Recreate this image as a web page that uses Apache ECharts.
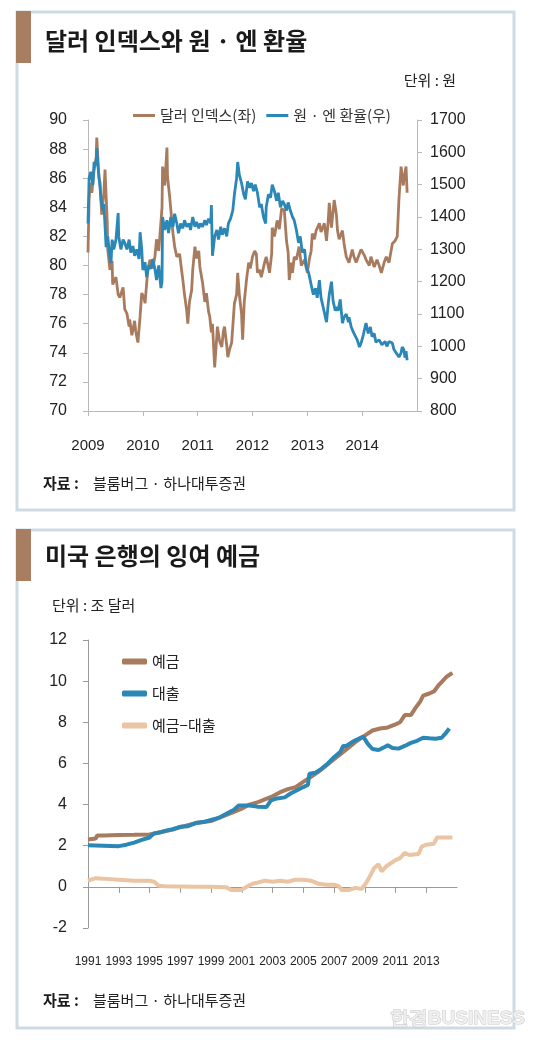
<!DOCTYPE html>
<html><head><meta charset="utf-8">
<script src="https://cdn.jsdelivr.net/npm/echarts@6/dist/echarts.min.js"></script>
<style>html,body{margin:0;padding:0;background:#fff;}#c{width:540px;height:1044px;}</style>
</head><body><div id="c"></div>
<script>
// ---------- Panel 1 data: 달러 인덱스 (left) / 원·엔 환율 (right) ----------
const p1XTicks = [2009, 2010, 2011, 2012, 2013, 2014];
const dxyDates = [2009.00,2009.02,2009.04,2009.07,2009.11,2009.15,2009.16,2009.20,2009.22,2009.25,2009.29,2009.31,2009.35,2009.36,2009.40,2009.44,2009.45,2009.51,2009.55,2009.58,2009.64,2009.67,2009.71,2009.75,2009.76,2009.80,2009.85,2009.87,2009.91,2009.95,2009.98,2010.02,2010.04,2010.09,2010.13,2010.18,2010.22,2010.25,2010.29,2010.35,2010.36,2010.40,2010.44,2010.45,2010.49,2010.53,2010.55,2010.58,2010.62,2010.67,2010.73,2010.76,2010.80,2010.82,2010.85,2010.89,2010.91,2010.95,2010.98,2011.02,2011.04,2011.09,2011.13,2011.16,2011.20,2011.22,2011.25,2011.27,2011.31,2011.35,2011.36,2011.40,2011.44,2011.47,2011.49,2011.53,2011.55,2011.58,2011.62,2011.67,2011.71,2011.73,2011.76,2011.80,2011.82,2011.85,2011.89,2011.93,2011.96,2012.00,2012.04,2012.07,2012.09,2012.13,2012.16,2012.22,2012.25,2012.29,2012.31,2012.35,2012.36,2012.40,2012.45,2012.49,2012.53,2012.58,2012.62,2012.65,2012.67,2012.71,2012.73,2012.76,2012.80,2012.85,2012.89,2012.95,2013.00,2013.04,2013.07,2013.09,2013.13,2013.16,2013.22,2013.25,2013.31,2013.35,2013.38,2013.40,2013.44,2013.49,2013.53,2013.55,2013.58,2013.64,2013.67,2013.71,2013.76,2013.82,2013.85,2013.89,2013.95,2013.98,2014.04,2014.07,2014.13,2014.16,2014.22,2014.27,2014.31,2014.35,2014.40,2014.44,2014.49,2014.55,2014.60,2014.64,2014.67,2014.71,2014.75,2014.76,2014.80,2014.82];
const dxyValues = [80.9,84.5,85.7,85.0,86.5,87.5,88.8,86.0,85.7,83.5,85.0,86.6,83.1,81.1,79.7,80.3,78.7,79.2,78.0,77.8,78.5,77.0,76.7,75.8,76.3,75.2,76.2,75.5,74.7,76.5,78.1,77.8,77.4,79.7,80.4,79.8,80.6,81.8,81.0,84.0,86.8,85.5,88.1,86.1,84.7,83.0,82.2,81.3,80.6,80.8,79.0,78.0,76.9,76.0,77.5,78.3,79.7,81.3,80.5,81.0,79.9,78.8,77.5,78.1,76.8,76.5,75.4,76.0,73.0,75.2,75.8,74.8,74.4,75.5,75.8,74.5,73.7,74.2,74.7,77.4,78.0,79.5,78.0,76.7,74.9,77.5,79.0,80.2,79.8,80.6,81.0,80.8,79.5,79.7,79.2,80.2,80.6,79.9,79.5,80.8,82.6,82.0,83.1,82.5,83.9,83.8,81.7,80.9,79.0,80.2,79.5,80.6,80.4,81.3,80.0,80.4,79.5,80.5,81.0,82.2,81.8,82.4,82.9,82.3,82.9,81.7,83.0,84.3,82.6,84.5,83.5,82.4,81.8,82.4,81.5,80.6,80.2,81.1,80.6,80.2,80.8,81.1,80.7,80.4,80.0,80.6,79.9,80.4,80.0,79.5,80.2,80.6,80.2,81.5,81.7,82.0,84.5,86.8,85.5,85.9,86.8,85.0];
const krwDates = [2009.00,2009.02,2009.05,2009.09,2009.11,2009.15,2009.16,2009.18,2009.22,2009.24,2009.27,2009.29,2009.33,2009.36,2009.40,2009.42,2009.44,2009.47,2009.51,2009.55,2009.56,2009.60,2009.64,2009.67,2009.71,2009.75,2009.78,2009.82,2009.85,2009.89,2009.93,2009.95,2009.98,2010.00,2010.04,2010.07,2010.11,2010.15,2010.18,2010.22,2010.25,2010.29,2010.33,2010.35,2010.36,2010.40,2010.44,2010.47,2010.51,2010.55,2010.58,2010.62,2010.65,2010.69,2010.73,2010.76,2010.80,2010.84,2010.87,2010.91,2010.95,2010.98,2011.02,2011.05,2011.09,2011.13,2011.16,2011.20,2011.24,2011.25,2011.27,2011.31,2011.35,2011.38,2011.42,2011.45,2011.49,2011.53,2011.56,2011.60,2011.64,2011.67,2011.71,2011.73,2011.76,2011.80,2011.84,2011.87,2011.91,2011.95,2011.98,2012.02,2012.05,2012.09,2012.13,2012.16,2012.20,2012.24,2012.25,2012.29,2012.33,2012.36,2012.40,2012.44,2012.47,2012.51,2012.55,2012.58,2012.62,2012.65,2012.69,2012.73,2012.76,2012.80,2012.84,2012.87,2012.91,2012.95,2012.98,2013.02,2013.04,2013.07,2013.11,2013.15,2013.18,2013.22,2013.25,2013.29,2013.35,2013.38,2013.40,2013.44,2013.47,2013.51,2013.53,2013.56,2013.60,2013.64,2013.67,2013.71,2013.75,2013.76,2013.80,2013.85,2013.91,2013.95,2013.98,2014.02,2014.07,2014.11,2014.15,2014.18,2014.22,2014.25,2014.31,2014.36,2014.42,2014.45,2014.49,2014.55,2014.58,2014.64,2014.67,2014.71,2014.73,2014.76,2014.78,2014.80,2014.82];
const krwValues = [1380,1520,1540,1500,1570,1560,1613,1560,1490,1450,1420,1440,1307,1340,1275,1258,1330,1300,1330,1412,1340,1300,1330,1320,1300,1330,1290,1310,1280,1300,1270,1353,1300,1236,1260,1214,1250,1240,1270,1240,1205,1250,1180,1200,1400,1360,1390,1350,1400,1370,1410,1380,1350,1380,1365,1390,1370,1380,1360,1400,1370,1385,1365,1380,1370,1390,1375,1395,1380,1437,1280,1340,1360,1330,1370,1345,1365,1340,1380,1395,1420,1470,1520,1570,1530,1505,1470,1455,1510,1490,1505,1480,1500,1475,1430,1440,1400,1380,1430,1470,1460,1500,1480,1450,1475,1430,1450,1440,1420,1445,1420,1400,1390,1360,1320,1340,1290,1300,1245,1230,1215,1190,1160,1180,1150,1205,1150,1120,1075,1130,1160,1200,1140,1110,1122,1110,1145,1072,1090,1100,1075,1090,1060,1040,1020,998,1010,1035,1072,1040,1060,1030,1040,1013,1020,1005,1015,1000,1015,1010,990,975,967,980,998,990,965,985,957];

// ---------- Panel 2 data: 미국 은행의 잉여 예금 (조 달러) ----------
const p2XTicks = [1991, 1993, 1995, 1997, 1999, 2001, 2003, 2005, 2007, 2009, 2011, 2013];
const depDates = [1991.0,1991.5,1991.6,1992,1993,1994,1995,1995.5,1996,1996.5,1997,1997.5,1998,1998.5,1999,1999.5,2000,2000.5,2001,2001.5,2002,2002.5,2003,2003.5,2004,2004.5,2005,2005.5,2006,2006.5,2007,2007.5,2008,2008.5,2009,2009.5,2010,2010.5,2011,2011.3,2011.6,2012,2012.3,2012.6,2012.8,2013.2,2013.5,2013.8,2014,2014.3,2014.7];
const depValues = [2.3,2.35,2.5,2.5,2.52,2.53,2.55,2.62,2.7,2.78,2.9,3.0,3.1,3.15,3.2,3.35,3.5,3.65,3.8,4.0,4.1,4.25,4.4,4.6,4.75,4.85,5.1,5.35,5.6,5.9,6.2,6.5,6.8,7.1,7.35,7.6,7.7,7.75,7.9,8.0,8.35,8.35,8.7,9.0,9.3,9.4,9.5,9.8,9.95,10.2,10.4];
const loanDates = [1991.0,1992,1993,1993.5,1994,1994.5,1995,1995.3,1995.7,1996,1996.5,1997,1997.5,1998,1998.5,1999,1999.5,2000,2000.5,2000.8,2001.2,2001.5,2002,2002.6,2002.9,2003.3,2003.8,2004.2,2004.6,2005.0,2005.3,2005.4,2005.8,2006.2,2006.6,2007,2007.4,2007.6,2007.8,2008.2,2008.6,2008.9,2009.2,2009.5,2009.9,2010.3,2010.5,2010.8,2011.2,2011.6,2012.0,2012.4,2012.8,2013.2,2013.6,2014.0,2014.3,2014.5];
const loanValues = [2.02,2.0,1.98,2.05,2.15,2.28,2.4,2.6,2.65,2.72,2.8,2.92,2.95,3.1,3.15,3.25,3.35,3.55,3.75,3.95,3.95,3.95,3.9,3.88,4.2,4.3,4.35,4.55,4.7,4.85,4.95,5.5,5.55,5.75,6.0,6.3,6.55,6.85,6.85,7.05,7.2,7.3,6.95,6.7,6.65,6.8,6.88,6.75,6.72,6.85,7.0,7.1,7.25,7.22,7.2,7.25,7.5,7.7];
const gapDates = [1991.0,1991.5,1992,1993,1994,1995,1995.3,1995.6,1996,1997,1998,1999,2000,2000.3,2001,2001.3,2001.7,2002,2002.5,2003,2003.5,2004,2004.5,2005,2005.5,2006,2006.5,2007,2007.3,2007.5,2008,2008.4,2008.8,2009.1,2009.4,2009.6,2009.9,2010.1,2010.4,2011,2011.3,2011.6,2011.9,2012.5,2012.7,2013,2013.5,2013.7,2014,2014.7];
const gapValues = [0.3,0.42,0.4,0.35,0.3,0.3,0.25,0.05,0.03,0.02,0.01,0.0,-0.02,-0.15,-0.15,0.0,0.15,0.2,0.3,0.25,0.3,0.25,0.35,0.35,0.3,0.15,0.1,0.1,0.05,-0.15,-0.15,-0.05,-0.1,0.2,0.6,0.9,1.1,0.75,1.0,1.3,1.4,1.65,1.55,1.6,1.95,2.05,2.1,2.4,2.4,2.4];

const pair = (xs, ys) => xs.map((x, i) => [x, ys[i]]);

const KR = "'Noto Sans CJK KR', sans-serif";
const NUM = "'Liberation Sans', Arial, sans-serif";
const BROWN = '#a97b5e', BLUE = '#2b87b6', PEACH = '#ebc4a3';
const BORDER = '#cfdbe3', ACCENT = '#a87e63';

const chart = echarts.init(document.getElementById('c'), null, {renderer: 'canvas'});
const txt = (x, y, text, font, fill, align) => ({type: 'text', x: x, y: y, silent: true, z: 10,
  style: {text: text, font: font, fill: fill || '#222', align: align || 'left', verticalAlign: 'middle'}});

chart.setOption({
  animation: false,
  backgroundColor: '#fff',
  graphic: [
    {type: 'rect', shape: {x: 17, y: 12, width: 497, height: 498}, style: {fill: '#fff', stroke: BORDER, lineWidth: 3}, z: -10, silent: true},
    {type: 'rect', shape: {x: 17, y: 530, width: 497, height: 498}, style: {fill: '#fff', stroke: BORDER, lineWidth: 3}, z: -10, silent: true},
    {type: 'rect', shape: {x: 16, y: 11, width: 15, height: 52}, style: {fill: ACCENT}, z: -5, silent: true},
    {type: 'rect', shape: {x: 16, y: 529, width: 15, height: 52}, style: {fill: ACCENT}, z: -5, silent: true},
    txt(45, 41, '달러 인덱스와 원 · 엔 환율', 'bold 24px ' + KR, '#1a1a1a'),
    txt(456, 80, '단위 : 원', '15px ' + KR, '#222', 'right'),
    txt(43, 483, '자료 :', 'bold 15px ' + KR, '#1a1a1a'),
    txt(93, 483, '블룸버그 · 하나대투증권', '15px ' + KR, '#222'),
    txt(45, 556, '미국 은행의 잉여 예금', 'bold 24px ' + KR, '#1a1a1a'),
    txt(52, 605, '단위 : 조 달러', '15px ' + KR, '#222'),
    txt(43, 1000, '자료 :', 'bold 15px ' + KR, '#1a1a1a'),
    txt(93, 1000, '블룸버그 · 하나대투증권', '15px ' + KR, '#222'),
    {type: 'text', x: 525, y: 1019, silent: true, z: 20,
     style: {text: '한경BUSINESS', font: 'bold 19px ' + NUM, fill: '#efefef', stroke: '#c8c8c8', lineWidth: 1, align: 'right', verticalAlign: 'middle'}}
  ],
  legend: [
    {left: 128, top: 103, itemWidth: 22, itemHeight: 3, itemGap: 10, icon: 'rect',
     textStyle: {fontFamily: KR, fontSize: 15, color: '#333'},
     data: ['달러 인덱스(좌)', '원 · 엔 환율(우)']},
    {orient: 'vertical', left: 117, top: 649, itemWidth: 25, itemHeight: 6, itemGap: 17, icon: 'roundRect',
     textStyle: {fontFamily: KR, fontSize: 15, color: '#222'},
     data: ['예금', '대출', '예금−대출']}
  ],
  grid: [
    {left: 88, top: 120, width: 329, height: 291},
    {left: 88, top: 640, width: 369, height: 288}
  ],
  xAxis: [
    {gridIndex: 0, type: 'value', min: 2009, max: 2015, interval: 1,
     axisLine: {show: true, onZero: false, lineStyle: {color: '#b8b8b8', width: 1}},
     axisTick: {show: true, length: 5, customValues: p1XTicks, lineStyle: {color: '#b8b8b8'}},
     axisLabel: {customValues: p1XTicks, margin: 27, fontFamily: NUM, fontSize: 15, color: '#222', formatter: v => String(v)},
     splitLine: {show: false}},
    // panel 2: axis line and ticks on the zero line
    {gridIndex: 1, type: 'value', min: 1991, max: 2015, interval: 2, position: 'bottom',
     axisLine: {show: true, onZero: true, lineStyle: {color: '#9a9a9a', width: 1}},
     axisTick: {show: true, length: 6, customValues: p2XTicks, lineStyle: {color: '#9a9a9a'}},
     axisLabel: {show: false},
     splitLine: {show: false}},
    // panel 2: year labels at the bottom of the plot
    {gridIndex: 1, type: 'value', min: 1991, max: 2015, interval: 2, position: 'bottom',
     axisLine: {show: false, onZero: false}, axisTick: {show: false},
     axisLabel: {customValues: p2XTicks, margin: 28, fontFamily: NUM, fontSize: 12, color: '#222', formatter: v => String(v)},
     splitLine: {show: false}}
  ],
  yAxis: [
    {gridIndex: 0, type: 'value', position: 'left', min: 70, max: 90, interval: 2,
     axisLine: {show: true, lineStyle: {color: '#b8b8b8'}},
     axisTick: {show: true, length: 5, lineStyle: {color: '#b8b8b8'}},
     axisLabel: {margin: 21, fontFamily: NUM, fontSize: 16, color: '#222'},
     splitLine: {show: false}},
    {gridIndex: 0, type: 'value', position: 'right', min: 800, max: 1700, interval: 100,
     axisLine: {show: true, lineStyle: {color: '#b8b8b8'}},
     axisTick: {show: true, length: 5, lineStyle: {color: '#b8b8b8'}},
     axisLabel: {margin: 13, fontFamily: NUM, fontSize: 16, color: '#222', formatter: v => String(v)},
     splitLine: {show: false}},
    {gridIndex: 1, type: 'value', min: -2, max: 12, interval: 2,
     axisLine: {show: true, lineStyle: {color: '#9a9a9a'}},
     axisTick: {show: true, length: 5, lineStyle: {color: '#9a9a9a'}},
     axisLabel: {margin: 21, fontFamily: NUM, fontSize: 16, color: '#222'},
     splitLine: {show: false}}
  ],
  series: [
    {name: '달러 인덱스(좌)', type: 'line', xAxisIndex: 0, yAxisIndex: 0, data: pair(dxyDates, dxyValues),
     showSymbol: false, color: BROWN, lineStyle: {width: 2.8, color: BROWN}},
    {name: '원 · 엔 환율(우)', type: 'line', xAxisIndex: 0, yAxisIndex: 1, data: pair(krwDates, krwValues),
     showSymbol: false, color: BLUE, lineStyle: {width: 2.8, color: BLUE}},
    {name: '예금−대출', type: 'line', xAxisIndex: 1, yAxisIndex: 2, data: pair(gapDates, gapValues),
     showSymbol: false, color: PEACH, lineStyle: {width: 4, color: PEACH}},
    {name: '예금', type: 'line', xAxisIndex: 1, yAxisIndex: 2, data: pair(depDates, depValues),
     showSymbol: false, color: BROWN, lineStyle: {width: 4, color: BROWN}},
    {name: '대출', type: 'line', xAxisIndex: 1, yAxisIndex: 2, data: pair(loanDates, loanValues),
     showSymbol: false, color: BLUE, lineStyle: {width: 4, color: BLUE}}
  ]
});
</script></body></html>
